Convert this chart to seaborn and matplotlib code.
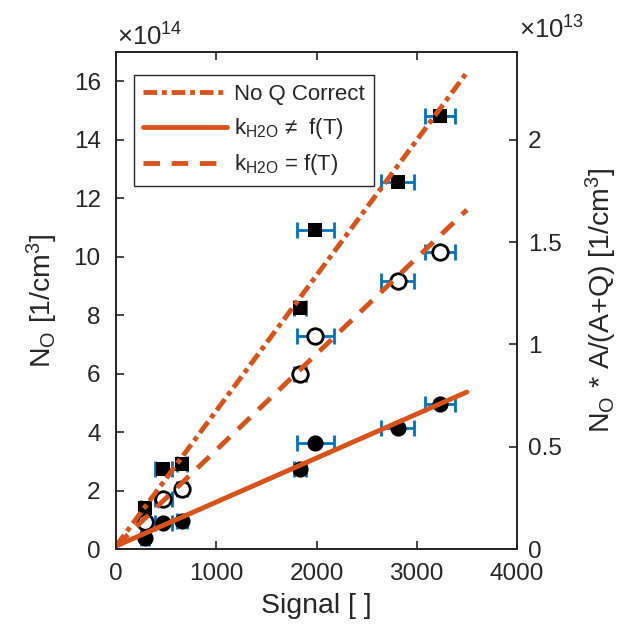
import matplotlib
matplotlib.use("Agg")
import matplotlib.pyplot as plt
import seaborn as sns
import numpy as np
import pandas as pd
from matplotlib.lines import Line2D

sns.set_style("ticks")
plt.rcParams['font.family'] = ['Liberation Sans', 'DejaVu Sans']
plt.rcParams['mathtext.default'] = 'regular'

# ---- data (densities in units of 1e14 1/cm^3) ----
signal = [290, 470, 660, 1840, 1990, 2810, 3230]
signal_err = [40, 85, 50, 60, 180, 165, 150]
n_noq = [1.4, 2.75, 2.9, 8.25, 10.9, 12.55, 14.8]      # No Q Correct (filled squares)
n_kf = [0.92, 1.7, 2.05, 6.0, 7.3, 9.15, 10.15]        # k_H2O = f(T) (open circles)
n_knf = [0.38, 0.9, 0.95, 2.72, 3.62, 4.15, 4.95]      # k_H2O != f(T) (filled circles)

fit_x = [0, 3500]
fit_noq = [0.1, 16.3]
fit_kf = [0.1, 11.6]
fit_knf = [0.1, 5.37]

x_ticks = [0, 1000, 2000, 3000, 4000]
y_ticks = [0, 2, 4, 6, 8, 10, 12, 14, 16]
y2_ticks = [0, 0.5, 1, 1.5, 2]

ORANGE = '#D95319'
BLUE = '#0072BD'
DARK = '#262626'

fig = plt.figure(figsize=(6.27, 6.37), dpi=100)
ax = fig.add_axes([116/627, (637-549)/637, 401/627, 497/637])

# error bars
for yy in (n_noq, n_kf, n_knf):
    ax.errorbar(signal, yy, xerr=signal_err, fmt='none', ecolor=BLUE,
                elinewidth=2.0, capsize=6, capthick=2.0, zorder=2)

df = pd.DataFrame({'signal': signal, 'noq': n_noq, 'kf': n_kf, 'knf': n_knf})
sns.scatterplot(data=df, x='signal', y='noq', marker='s', s=90, color='black',
                edgecolor='black', linewidth=0, ax=ax, zorder=3, legend=False)
sns.scatterplot(data=df, x='signal', y='kf', marker='o', s=125, facecolor='white',
                edgecolor='black', linewidth=2.0, ax=ax, zorder=3, legend=False)
sns.scatterplot(data=df, x='signal', y='knf', marker='o', s=135, color='black',
                edgecolor='black', linewidth=0, ax=ax, zorder=3, legend=False)

fit = pd.DataFrame({'x': fit_x, 'noq': fit_noq, 'kf': fit_kf, 'knf': fit_knf})
lw = 3.5
DD = (2.8, 1.0, 1.0, 1.0)
DS = (3.4, 2.4)
ax.plot(fit['x'], fit['noq'], color=ORANGE, lw=lw, zorder=4, dashes=DD)
ax.plot(fit['x'], fit['knf'], color=ORANGE, lw=lw, zorder=4, linestyle='-')
ax.plot(fit['x'], fit['kf'], color=ORANGE, lw=lw, zorder=4, dashes=DS)

ax.set_xlim(0, 4000)
ax.set_ylim(0, 17.0)
ax.set_xticks(x_ticks)
ax.set_yticks(y_ticks)
ax.set_xticklabels([str(t) for t in x_ticks])
ax.set_yticklabels([str(t) for t in y_ticks])

ax2 = ax.twinx()
ax2.set_ylim(0, 2.43)
ax2.set_yticks(y2_ticks)
ax2.set_yticklabels(['0', '0.5', '1', '1.5', '2'])

for a in (ax, ax2):
    for s in a.spines.values():
        s.set_visible(True)
        s.set_color(DARK)
        s.set_linewidth(1.3)
ax.tick_params(axis='x', direction='in', length=6, width=1.2, colors=DARK,
               labelsize=17.5, top=True, pad=10)
ax.tick_params(axis='y', direction='in', length=6, width=1.2, colors=DARK,
               labelsize=17.5, right=False, pad=11)
ax2.tick_params(axis='y', direction='in', length=6, width=1.2, colors=DARK,
                labelsize=17.5, pad=8)

ax.set_xlabel('Signal [ ]', fontsize=20.5, color=DARK, labelpad=6)
ax.set_ylabel('N$_O$ [1/cm$^3$]', fontsize=20.5, color=DARK, labelpad=10)
ax2.set_ylabel('N$_O$ * A/(A+Q) [1/cm$^3$]', fontsize=20.5, color=DARK, labelpad=16)

fig.text(117/627, 1-37/637, r'$\times$10$^{14}$', fontsize=18.5, color=DARK, va='center', ha='left')
fig.text(519/627, 1-30/637, r'$\times$10$^{13}$', fontsize=18.5, color=DARK, va='center', ha='left')

handles = [Line2D([], [], color=ORANGE, lw=lw, dashes=DD),
           Line2D([], [], color=ORANGE, lw=lw),
           Line2D([], [], color=ORANGE, lw=lw, dashes=DS)]
labels = ['No Q Correct', 'k$_{H2O}$ ≠  f(T)', 'k$_{H2O}$ = f(T)']
leg = ax2.legend(handles, labels, loc='upper left', bbox_to_anchor=(0.045, 0.953),
                 fontsize=16, frameon=True, fancybox=False, framealpha=1,
                 edgecolor=DARK, handlelength=3.8, borderpad=0.4, labelspacing=0.5,
                 handletextpad=0.3, borderaxespad=0)
leg.get_frame().set_linewidth(1.0)
for t in leg.get_texts():
    t.set_color(DARK)

fig.savefig('out.png', dpi=100)
